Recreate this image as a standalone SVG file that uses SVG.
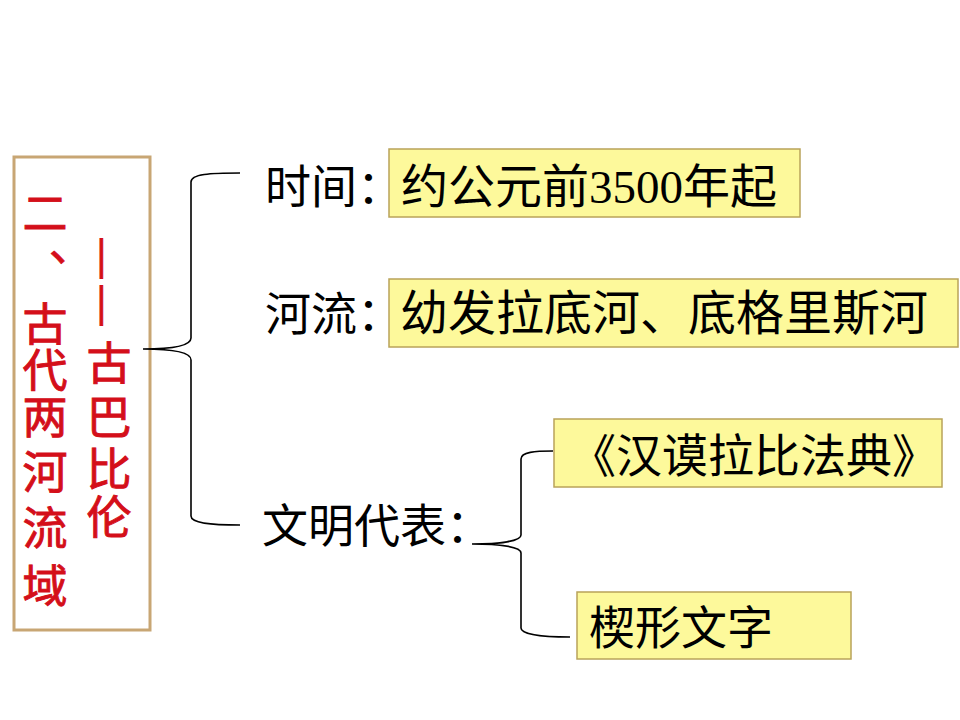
<svg xmlns="http://www.w3.org/2000/svg" width="960" height="720" viewBox="0 0 960 720">
<style>
.t{font-family:"Liberation Serif","Noto Sans CJK SC",serif;fill:#000;}
.r{font-family:"Noto Sans CJK SC",sans-serif;fill:#d40f1a;stroke:#d40f1a;stroke-width:0.9;text-anchor:middle;}
.box{fill:#fdf99b;stroke:#b9a35a;stroke-width:1.5;}
.br{fill:none;stroke:#000;stroke-width:1.6;}
</style>
<rect width="960" height="720" fill="#fff"/>
<g id="title">
<rect x="14" y="157" width="136" height="473" fill="none" stroke="#c8a674" stroke-width="3"/>
<text class="r" font-size="45" x="45" y="230">二</text>
<text class="r" font-size="45" x="49" y="261" style="text-anchor:start">、</text>
<text class="r" font-size="45" x="45" y="341">古</text>
<text class="r" font-size="45" x="45" y="387">代</text>
<text class="r" font-size="45" x="45" y="434">两</text>
<text class="r" font-size="45" x="45" y="489">河</text>
<text class="r" font-size="45" x="45" y="545">流</text>
<text class="r" font-size="45" x="45" y="603">域</text>
<text class="r" font-size="40" x="0" y="0" style="font-family:'Liberation Sans',sans-serif" stroke-width="5" transform="translate(91,282) rotate(90)">—<tspan dx="7">—</tspan></text>
<text class="r" font-size="45" x="109" y="380">古</text>
<text class="r" font-size="45" x="109" y="434">巴</text>
<text class="r" font-size="45" x="109" y="486">比</text>
<text class="r" font-size="45" x="109" y="534">伦</text>
</g>
<g id="connectors">
<path class="br" d="M240,173 C210,173 191,174 191,182 L191,338 C191,346 170,349 143,349 C170,349 191,352 191,360 L191,516 C191,523 210,525 240,525"/>
<path class="br" d="M553,451 C535,451 521,452 521,459 L521,535 C521,541 500,544 472,544 C500,544 521,547 521,553 L521,628 C521,634 540,637 570,637"/>
</g>
<g id="time">
<text class="t" font-size="46" x="265" y="203">时间：</text>
<rect class="box" x="389" y="149" width="411" height="68"/>
<text class="t" font-size="47" x="401" y="203">约公元前3500年起</text>
</g>
<g id="river">
<text class="t" font-size="46" x="265" y="330">河流：</text>
<rect class="box" x="389" y="279" width="569" height="68"/>
<text class="t" font-size="48" x="400" y="330">幼发拉底河、底格里斯河</text>
</g>
<g id="civ">
<text class="t" font-size="46" x="262" y="542">文明代表：</text>
</g>
<g id="code">
<rect class="box" x="554" y="419" width="388" height="68"/>
<text class="t" font-size="46" x="570" y="472">《汉谟拉比法典》</text>
</g>
<g id="script">
<rect class="box" x="577" y="592" width="274" height="67"/>
<text class="t" font-size="46" x="589" y="644">楔形文字</text>
</g>
</svg>
